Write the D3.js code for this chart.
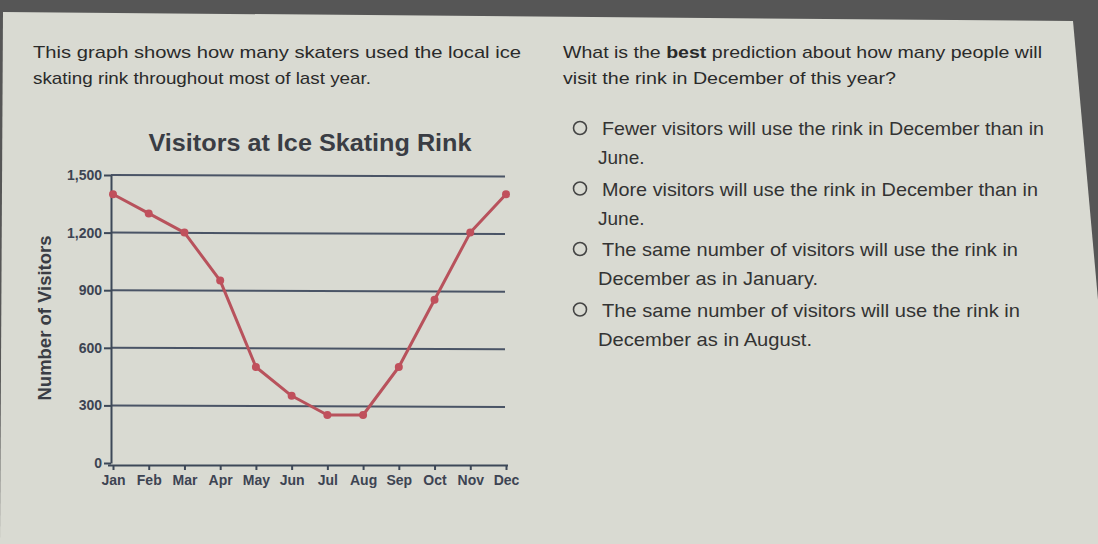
<!DOCTYPE html>
<html><head><meta charset="utf-8">
<script src="https://cdn.jsdelivr.net/npm/d3@7"></script>
<style>body{margin:0;background:#555555;overflow:hidden}svg{display:block}</style>
</head><body>
<svg id="c" width="1098" height="544"></svg>
<script>
const months = ["Jan","Feb","Mar","Apr","May","Jun","Jul","Aug","Sep","Oct","Nov","Dec"];
const visitors = [1400,1300,1200,950,500,350,250,250,500,850,1200,1400];
const yTicks = [0,300,600,900,1200,1500];
const introLines = ["This graph shows how many skaters used the local ice","skating rink throughout most of last year."];
const optionLines = [
  ["Fewer visitors will use the rink in December than in","June."],
  ["More visitors will use the rink in December than in","June."],
  ["The same number of visitors will use the rink in","December as in January."],
  ["The same number of visitors will use the rink in","December as in August."]
];
const optionWidths = [[442,null],[436,null],[416,220],[418,214]];

const svg = d3.select("#c");
svg.append("rect").attr("width",1098).attr("height",544).attr("fill","#565656");
svg.append("polygon").attr("points","3,12 1073,21 1098,300 1098,544 0,544").attr("fill","#d9dad2");

const font = "Liberation Sans, Arial, sans-serif";
const txt = "#2a2a2a";
svg.selectAll("text.intro").data(introLines).join("text").attr("class","intro")
  .attr("x",33).attr("y",(d,i)=>58+i*26).attr("font-family",font).attr("font-size",17)
  .attr("fill",txt).attr("textLength",(d,i)=>i===0?488:338).attr("lengthAdjust","spacingAndGlyphs").text(d=>d);

const q = svg.append("text").attr("x",563).attr("y",58).attr("font-family",font).attr("font-size",17).attr("fill",txt)
  .attr("textLength",479).attr("lengthAdjust","spacingAndGlyphs");
q.append("tspan").text("What is the ");
q.append("tspan").attr("font-weight","bold").text("best");
q.append("tspan").text(" prediction about how many people will");
svg.append("text").attr("x",563).attr("y",84).attr("font-family",font).attr("font-size",17).attr("fill",txt)
  .attr("textLength",333).attr("lengthAdjust","spacingAndGlyphs").text("visit the rink in December of this year?");

optionLines.forEach((lines,i)=>{
  const y0 = 135 + i*60.5;
  svg.append("circle").attr("cx",580).attr("cy",y0-7).attr("r",6.5).attr("fill","none").attr("stroke","#444").attr("stroke-width",1.6);
  lines.forEach((l,j)=>{
    const t = svg.append("text").attr("x",j===0?602:598).attr("y",y0+j*29).attr("font-family",font).attr("font-size",19)
      .attr("fill","#333").text(l);
    if (optionWidths[i][j]) t.attr("textLength",optionWidths[i][j]).attr("lengthAdjust","spacingAndGlyphs");
  });
});

// chart
const x = d3.scalePoint().domain(months).range([113,506]);
const y = d3.scaleLinear().domain([0,1500]).range([463,175]);
const g = svg.append("g");
const axisCol = "#3d4858";

g.append("text").attr("x",310).attr("y",151).attr("text-anchor","middle").attr("font-family",font)
  .attr("font-weight","bold").attr("font-size",24).attr("fill","#3a3d44")
  .attr("textLength",323).attr("lengthAdjust","spacingAndGlyphs").text("Visitors at Ice Skating Rink");

// gridlines
g.selectAll("line.grid").data(yTicks.filter(d=>d>0)).join("line").attr("class","grid")
  .attr("x1",111).attr("x2",505).attr("y1",d=>y(d)).attr("y2",d=>y(d)+1.5)
  .attr("stroke","#4a5466").attr("stroke-width",2);

const ya = g.append("g").attr("transform","translate(111,0)")
  .call(d3.axisLeft(y).tickValues(yTicks).tickFormat(d3.format(",")).tickSize(7).tickSizeOuter(0));
ya.select(".domain").attr("stroke",axisCol).attr("stroke-width",2);
ya.selectAll("line").attr("stroke",axisCol).attr("stroke-width",2);
ya.selectAll("text").attr("font-family",font).attr("font-size",14).attr("font-weight","bold").attr("fill","#3d4452").attr("x",-9);

const xa = g.append("g").attr("transform","translate(0,465)")
  .call(d3.axisBottom(x).tickSize(5).tickSizeOuter(0));
xa.select(".domain").attr("stroke",axisCol).attr("stroke-width",2).attr("d","M108,0.5H508");
xa.selectAll("line").attr("stroke",axisCol).attr("stroke-width",2);
xa.selectAll("text").attr("font-family",font).attr("font-size",14).attr("font-weight","bold").attr("fill","#3d4452").attr("dy","0.85em");

g.append("text").attr("transform","translate(51,318) rotate(-90)").attr("text-anchor","middle")
  .attr("font-family",font).attr("font-weight","bold").attr("font-size",18).attr("fill","#3a3d44")
  .attr("textLength",165).attr("lengthAdjust","spacingAndGlyphs").text("Number of Visitors");

const data = months.map((m,i)=>({m,v:visitors[i]}));
g.append("path").datum(data).attr("fill","none").attr("stroke","#b8525c").attr("stroke-width",3)
  .attr("stroke-linejoin","round").attr("d",d3.line().x(d=>x(d.m)).y(d=>y(d.v)));
g.selectAll("circle.pt").data(data).join("circle").attr("class","pt")
  .attr("cx",d=>x(d.m)).attr("cy",d=>y(d.v)).attr("r",4).attr("fill","#c0505c");
</script>
</body></html>
